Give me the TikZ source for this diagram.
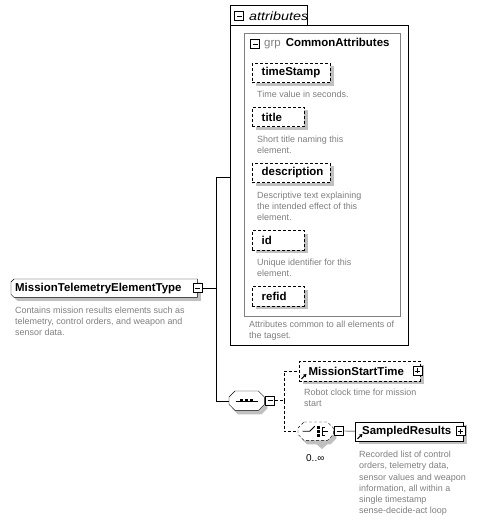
\documentclass[tikz,border=0pt]{standalone}
\usepackage{fontspec}
\usepackage{graphicx}
\setmainfont{Liberation Sans}
\usetikzlibrary{backgrounds,arrows.meta}
\definecolor{descgray}{RGB}{128,128,128}
\definecolor{shadowgray}{RGB}{192,192,192}
\definecolor{grpgray}{RGB}{128,128,128}
\newcommand{\octopath}[2]{([xshift=#2]#1.north west) -- ([xshift=-#2]#1.north east) -- ([yshift=-#2]#1.north east) -- ([yshift=#2]#1.south east) -- ([xshift=-#2]#1.south east) -- ([xshift=#2]#1.south west) -- ([yshift=#2]#1.south west) -- ([yshift=-#2]#1.north west) -- cycle}
\newcommand{\leftcutpath}[2]{([xshift=#2]#1.north west) -- (#1.north east) -- (#1.south east) -- ([xshift=#2]#1.south west) -- ([yshift=#2]#1.south west) -- ([yshift=-#2]#1.north west) -- cycle}
\newcommand{\shadowbox}[1]{\begin{pgfonlayer}{background}\fill[shadowgray] ([xshift=3.5bp,yshift=-3.5bp]#1.south west) rectangle ([xshift=3.5bp,yshift=-3.5bp]#1.north east);\end{pgfonlayer}}
\begin{document}
\begin{tikzpicture}[x=1bp,y=-1bp,line width=1bp,
  nm/.style={font=\fontsize{11.5}{13}\selectfont\bfseries},
  desc/.style={font=\fontsize{9}{11.3}\selectfont, text=descgray, align=left, inner sep=0, anchor=north west},
  dashline/.style={dash pattern=on 3bp off 2bp},
  attrbox/.style={draw, dashline, fill=white, anchor=north west, minimum height=19.5bp, inner xsep=9.5bp, inner ysep=0, align=left, nm},
  elbox/.style={draw, fill=white, anchor=north west, minimum height=19bp, inner xsep=7bp, inner ysep=0, align=left, nm},
  plainbox/.style={inner sep=0, anchor=north west},
  minusicon/.style={draw, solid, fill=white, minimum size=9bp, inner sep=0, line width=0.8bp,
    path picture={\draw[line width=0.8bp] ([xshift=2bp]path picture bounding box.west) -- ([xshift=-2bp]path picture bounding box.east);}},
  plusicon/.style={draw, solid, fill=white, minimum size=9bp, inner sep=0, line width=0.8bp,
    path picture={\draw[line width=0.8bp] ([xshift=2bp]path picture bounding box.west) -- ([xshift=-2bp]path picture bounding box.east)
      ([yshift=2bp]path picture bounding box.south) -- ([yshift=-2bp]path picture bounding box.north);}},
  refarrow/.style={line width=1bp, -{Triangle[length=3bp,width=3.5bp]}}
]
\useasboundingbox (0,0) rectangle (496,520);
\begin{pgfonlayer}{background}\fill[white] (0,0) rectangle (496,520);\end{pgfonlayer}

% ---------- main element type ----------
\node[plainbox, inner xsep=4bp, text width=178bp, minimum height=18bp, align=left, nm] (main) at (11,279) {MissionTelemetryElementType};
\begin{pgfonlayer}{background}
  \begin{scope}[transform canvas={shift={(3.5bp,-3.5bp)}}]\fill[shadowgray] \leftcutpath{main}{3bp};\end{scope}
  \draw[fill=white] \leftcutpath{main}{3bp};
\end{pgfonlayer}
\node[minusicon] (mainx) at (main.east) {};
\node[desc] (maind) at (15,306.5) {Contains mission results elements such as\\telemetry, control orders, and weapon and\\sensor data.};

% ---------- attributes ----------
\node[draw, anchor=north west, minimum width=178bp, minimum height=320bp, inner sep=0] (attr) at (230,25) {};
\draw (attr.north west) -- ++(0,-20) -- ++(77,0) -- ++(0,20);
\node[minusicon] (attrx) at (239,16) {};
\node[anchor=west, inner sep=0, font=\itshape\fontsize{12}{14}\selectfont] (attrt) at (249,16) {\scalebox{1.2}[1]{attributes}};

\node[draw=grpgray, anchor=north west, minimum width=156bp, minimum height=283bp, inner sep=0] (grp) at (244,33) {};
\node[minusicon] (grpx) at (255,44) {};
\node[anchor=west, inner sep=0, font=\fontsize{11.5}{13}\selectfont] (grpt) at (264,44) {\textcolor{descgray}{grp}\hspace{5bp}\textbf{CommonAttributes}};

\node[attrbox, text width=59bp] (ts) at (252,63) {timeStamp};
\shadowbox{ts}
\node[desc] (tsd) at (257,90.5) {Time value in seconds.};
\node[attrbox, text width=33bp] (ti) at (252,107) {title};
\shadowbox{ti}
\node[desc] (tid) at (257,135.5) {Short title naming this\\element.};
\node[attrbox, text width=59bp] (de) at (252,163) {description};
\shadowbox{de}
\node[desc] (ded) at (257,191.5) {Descriptive text explaining\\the intended effect of this\\element.};
\node[attrbox, text width=33bp] (idn) at (252,230) {id};
\shadowbox{idn}
\node[desc] (idd) at (257,258.5) {Unique identifier for this\\element.};
\node[attrbox, text width=33bp] (rf) at (252,286) {refid};
\shadowbox{rf}
\node[desc] (attrd) at (249,320.5) {Attributes common to all elements of\\the tagset.};

% ---------- sequence ----------
\node[plainbox, minimum width=35bp, minimum height=19bp] (seq) at (229,391) {};
\begin{pgfonlayer}{background}
  \begin{scope}[transform canvas={shift={(3bp,-4bp)}}]\fill[shadowgray] \octopath{seq}{6bp};\end{scope}
  \draw[fill=white] \octopath{seq}{6bp};
\end{pgfonlayer}
\draw ([xshift=-11bp]seq.center) -- ([xshift=11bp]seq.center);
\foreach \dx in {-5,0,5} \fill ([xshift=\dx bp]seq.center) +(-1.6,-1.6) rectangle +(1.6,1.6);
\node[minusicon] (seqx) at (270,400.5) {};

% ---------- connectors from main ----------
\coordinate (ja) at (216,177);
\draw (mainx.east) -- (mainx.east -| ja);
\draw (ja -| attr.west) -- (ja) |- (seq.west);
\coordinate (js) at (284,400.5);
\draw[dashline] (seqx.east) -- (js);

% ---------- MissionStartTime ----------
\node[attrbox, text width=102bp] (mst) at (299,361) {MissionStartTime};
\shadowbox{mst}
\node[plusicon] (mstx) at ([xshift=-3bp]mst.east) {};
\draw[refarrow] ([xshift=2.5bp,yshift=2bp]mst.south west) -- ++(5,-5);
\node[desc] (mstd) at (304,389) {Robot clock time for mission\\start};

% ---------- choice ----------
\node[plainbox, minimum width=35bp, minimum height=18bp] (ch) at (298,422) {};
\begin{pgfonlayer}{background}
  \fill[shadowgray] (314,442) -- (330,442) -- (322,449) -- cycle;
  \begin{scope}[transform canvas={shift={(3bp,-4bp)}}]\fill[shadowgray] \octopath{ch}{6bp};\end{scope}
  \draw[fill=white, dashline] \octopath{ch}{6bp};
\end{pgfonlayer}
\draw[line width=0.9bp] ([xshift=-13bp]ch.center) -- ([xshift=-6bp]ch.center) -- ([xshift=-1bp,yshift=5bp]ch.center);
\foreach \dy in {-4,0,4} \fill ([xshift=3bp,yshift=\dy bp]ch.center) +(-1.3,-1.3) rectangle +(1.3,1.3);
\draw[line width=0.9bp] ([xshift=6.5bp,yshift=4bp]ch.center) -- ([xshift=6.5bp,yshift=-4bp]ch.center)
  ([xshift=6.5bp,yshift=4bp]ch.center) -- ([xshift=9bp,yshift=4bp]ch.center)
  ([xshift=6.5bp,yshift=-4bp]ch.center) -- ([xshift=9bp,yshift=-4bp]ch.center)
  ([xshift=6.5bp]ch.center) -- ([xshift=12bp]ch.center);
\node[minusicon] (chx) at (339,431) {};
\node[font=\fontsize{10}{12}\selectfont, anchor=west, inner sep=0] (occ) at (306,458) {0..∞};

\draw[dashline] (js) |- (mst.west);
\draw[dashline] (js) |- (ch.west);

% ---------- SampledResults ----------
\node[elbox, text width=94bp] (sr) at (355,421.5) {SampledResults};
\shadowbox{sr}
\node[plusicon] (srx) at ([xshift=-3bp]sr.east) {};
\draw[refarrow] ([xshift=2.5bp,yshift=2bp]sr.south west) -- ++(5,-5);
\draw (chx.east) -- (sr.west);
\node[desc] (srd) at (359,451) {Recorded list of control\\orders, telemetry data,\\sensor values and weapon\\information, all within a\\single timestamp\\sense-decide-act loop};
\end{tikzpicture}
\end{document}
